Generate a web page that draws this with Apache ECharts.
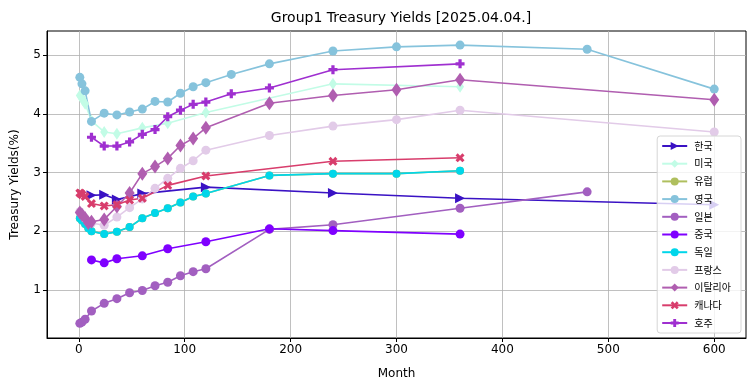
<!DOCTYPE html>
<html>
<head>
<meta charset="utf-8">
<script src="https://cdn.jsdelivr.net/npm/echarts@6/dist/echarts.min.js"></script>
<style>html,body{margin:0;padding:0;background:#fff}#c{width:755px;height:391px}</style>
</head>
<body>
<div id="c"></div>
<script>
// ---- data (months, yields %) ----
const chartTitle = 'Group1 Treasury Yields [2025.04.04.]';
const xTicks = [0, 100, 200, 300, 400, 500, 600];
const yTicks = [1, 2, 3, 4, 5];

const krMonths = [12, 24, 36, 60, 120, 240, 360, 600];
const krYields = [2.61, 2.62, 2.54, 2.64, 2.75, 2.65, 2.56, 2.45];

const usMonths = [1, 2, 3, 4, 6, 12, 24, 36, 60, 84, 120, 240, 360];
const usYields = [4.31, 4.29, 4.27, 4.23, 4.17, 3.88, 3.69, 3.66, 3.76, 3.84, 4.02, 4.51, 4.46];

const euMonths = [1, 3, 6, 9, 12, 24, 36, 48, 60, 72, 84, 96, 108, 120, 180, 240, 300, 360];
const euYields = [2.22, 2.18, 2.12, 2.05, 2.00, 1.95, 1.99, 2.07, 2.22, 2.31, 2.39, 2.49, 2.59, 2.64, 2.95, 2.98, 2.98, 3.03];

const ukMonths = [1, 3, 6, 12, 24, 36, 48, 60, 72, 84, 96, 108, 120, 144, 180, 240, 300, 360, 480, 600];
const ukYields = [4.62, 4.51, 4.39, 3.87, 4.01, 3.98, 4.03, 4.08, 4.21, 4.20, 4.35, 4.46, 4.53, 4.67, 4.85, 5.07, 5.14, 5.17, 5.10, 4.42];

const jpMonths = [1, 3, 6, 12, 24, 36, 48, 60, 72, 84, 96, 108, 120, 180, 240, 360, 480];
const jpYields = [0.43, 0.45, 0.50, 0.64, 0.77, 0.85, 0.95, 0.99, 1.07, 1.13, 1.24, 1.31, 1.36, 2.03, 2.11, 2.39, 2.67];

const cnMonths = [12, 24, 36, 60, 84, 120, 180, 240, 360];
const cnYields = [1.51, 1.46, 1.53, 1.58, 1.70, 1.82, 2.04, 2.01, 1.95];

const deMonths = [1, 3, 6, 9, 12, 24, 36, 48, 60, 72, 84, 96, 108, 120, 180, 240, 300, 360];
const deYields = [2.22, 2.18, 2.12, 2.05, 2.00, 1.95, 1.99, 2.07, 2.22, 2.31, 2.39, 2.49, 2.59, 2.64, 2.95, 2.98, 2.98, 3.03];

const frMonths = [1, 3, 6, 9, 12, 24, 36, 48, 60, 72, 84, 96, 108, 120, 180, 240, 300, 360, 600];
const frYields = [2.33, 2.29, 2.22, 2.16, 2.14, 2.10, 2.24, 2.40, 2.55, 2.73, 2.90, 3.07, 3.20, 3.38, 3.63, 3.79, 3.90, 4.06, 3.69];

const itMonths = [1, 3, 6, 9, 12, 24, 36, 48, 60, 72, 84, 96, 108, 120, 180, 240, 300, 360, 600];
const itYields = [2.32, 2.28, 2.22, 2.14, 2.16, 2.20, 2.42, 2.65, 2.98, 3.10, 3.24, 3.46, 3.58, 3.76, 4.18, 4.31, 4.41, 4.58, 4.24];

const caMonths = [1, 2, 3, 6, 12, 24, 36, 48, 60, 84, 120, 240, 360];
const caYields = [2.65, 2.64, 2.62, 2.59, 2.47, 2.43, 2.45, 2.53, 2.56, 2.78, 2.94, 3.19, 3.25];

const auMonths = [12, 24, 36, 48, 60, 72, 84, 96, 108, 120, 144, 180, 240, 360];
const auYields = [3.60, 3.45, 3.45, 3.52, 3.65, 3.73, 3.95, 4.06, 4.16, 4.20, 4.34, 4.44, 4.75, 4.85];

// ---- styling ----
const PLUS = 'path://M3.2,0H6.8V3.2H10V6.8H6.8V10H3.2V6.8H0V3.2H3.2Z';
const XMARK = 'path://M2.4,0L5,2.6L7.6,0L10,2.4L7.4,5L10,7.6L7.6,10L5,7.4L2.4,10L0,7.6L2.6,5L0,2.4Z';

const seriesDefs = [
  {name: '한국', m: krMonths, v: krYields, color: '#3a12c4', symbol: 'triangle', size: 10, rotate: -90},
  {name: '미국', m: usMonths, v: usYields, color: '#c2fce6', symbol: 'diamond', size: [8, 12]},
  {name: '유럽', m: euMonths, v: euYields, color: '#afbf5e', symbol: 'circle', size: 8},
  {name: '영국', m: ukMonths, v: ukYields, color: '#86c3dc', symbol: 'circle', size: 9},
  {name: '일본', m: jpMonths, v: jpYields, color: '#a25fc0', symbol: 'circle', size: 9},
  {name: '중국', m: cnMonths, v: cnYields, color: '#7f00ff', symbol: 'circle', size: 9},
  {name: '독일', m: deMonths, v: deYields, color: '#00d6ea', symbol: 'circle', size: 8},
  {name: '프랑스', m: frMonths, v: frYields, color: '#e2cbe8', symbol: 'circle', size: 9},
  {name: '이탈리아', m: itMonths, v: itYields, color: '#b05eb0', symbol: 'diamond', size: [10, 14]},
  {name: '캐나다', m: caMonths, v: caYields, color: '#d83d6c', symbol: XMARK, size: 9},
  {name: '호주', m: auMonths, v: auYields, color: '#9f2fd0', symbol: PLUS, size: 9}
];

const series = seriesDefs.map(d => ({
  name: d.name,
  type: 'line',
  data: d.m.map((mm, i) => [mm, d.v[i]]),
  symbol: d.symbol,
  symbolSize: d.size,
  symbolRotate: d.rotate || 0,
  showAllSymbol: true,
  animation: false,
  color: d.color,
  lineStyle: {color: d.color, width: 1.6},
  itemStyle: {color: d.color, borderWidth: 0},
  emphasis: {disabled: true}
}));

const chart = echarts.init(document.getElementById('c'), null, {renderer: 'canvas'});
chart.setOption({
  animation: false,
  backgroundColor: '#fff',
  textStyle: {fontFamily: 'DejaVu Sans'},
  title: {
    text: chartTitle, left: 396, top: 6, textAlign: 'center',
    textStyle: {fontSize: 14, fontWeight: 'normal', color: '#000', fontFamily: 'DejaVu Sans'}
  },
  grid: {left: 47, right: 9, top: 31, bottom: 53, show: true, borderColor: '#000', borderWidth: 1, backgroundColor: 'transparent'},
  legend: {
    orient: 'vertical', right: 14, bottom: 58,
    itemWidth: 25, itemHeight: 10, itemGap: 7.7,
    padding: [5, 10, 5, 4],
    backgroundColor: 'rgba(255,255,255,0.8)', borderColor: '#d6d6d6', borderWidth: 1, borderRadius: 3,
    textStyle: {fontSize: 10, fontFamily: 'Noto Sans CJK KR', color: '#000', padding: [0, 0, 0, 2]},
    data: seriesDefs.map(d => d.name)
  },
  xAxis: {
    type: 'value', min: -30, max: 630,
    name: 'Month', nameLocation: 'middle', nameGap: 30,
    nameTextStyle: {fontSize: 12, color: '#000'},
    axisLine: {show: true, onZero: false, lineStyle: {color: '#000', width: 1}},
    axisTick: {show: true, length: 4, inside: false, customValues: xTicks, lineStyle: {color: '#000'}},
    axisLabel: {fontSize: 12, color: '#000', margin: 6, customValues: xTicks},
    splitLine: {show: true, lineStyle: {color: '#b0b0b0', width: 0.8}}
  },
  yAxis: {
    type: 'value', min: 0.18, max: 5.41,
    name: 'Treasury Yields(%)', nameLocation: 'middle', nameGap: 26,
    nameTextStyle: {fontSize: 12, color: '#000'},
    axisLine: {show: true, onZero: false, lineStyle: {color: '#000', width: 1}},
    axisTick: {show: true, length: 4, inside: false, customValues: yTicks, lineStyle: {color: '#000'}},
    axisLabel: {fontSize: 12, color: '#000', margin: 6, customValues: yTicks},
    splitLine: {show: true, lineStyle: {color: '#b0b0b0', width: 0.8}}
  },
  series: series
});
</script>
</body>
</html>
